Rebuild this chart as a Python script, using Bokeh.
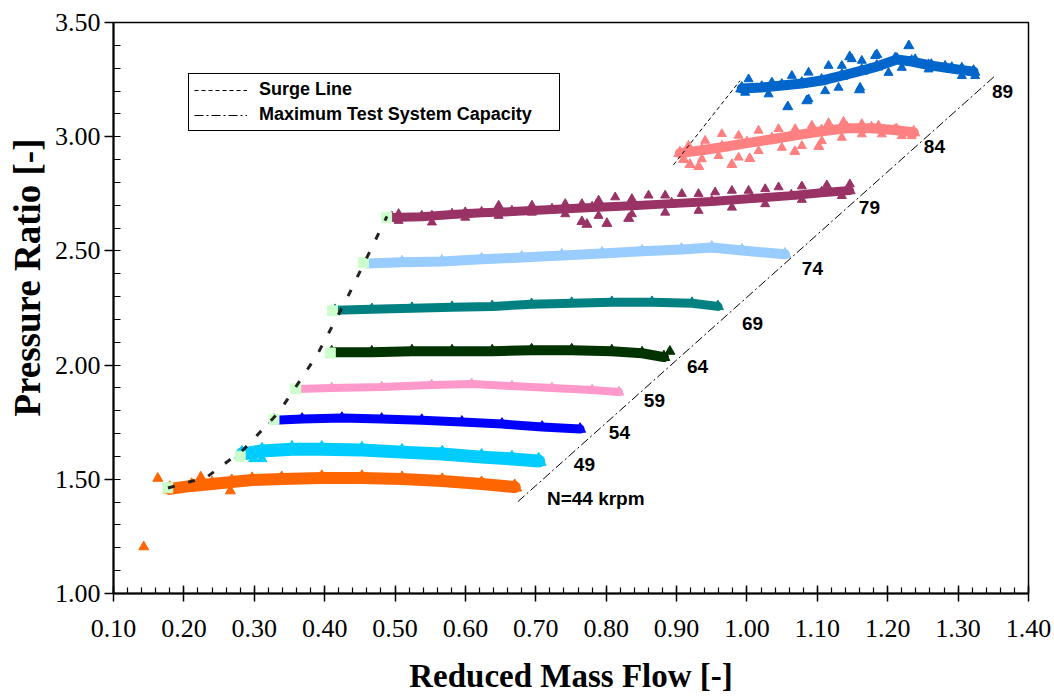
from bokeh.plotting import figure
from bokeh.models import Range1d, FixedTicker, PrintfTickFormatter, Legend, LegendItem, Title
from bokeh.core.properties import value
from bokeh.embed import file_html
from bokeh.resources import INLINE

# ---------------- data ----------------
x_ticks = [0.10, 0.20, 0.30, 0.40, 0.50, 0.60, 0.70, 0.80, 0.90, 1.00, 1.10, 1.20, 1.30, 1.40]
y_ticks = [1.00, 1.50, 2.00, 2.50, 3.00, 3.50]
x_title = "Reduced Mass Flow [-]"
y_title = "Pressure Ratio [-]"

n44_x = [0.180, 0.211, 0.240, 0.268, 0.297, 0.339, 0.396, 0.453, 0.510, 0.567, 0.623, 0.670]
n44_y = [1.458, 1.471, 1.479, 1.488, 1.497, 1.501, 1.506, 1.506, 1.501, 1.493, 1.479, 1.466]
n44_out_x = [0.143, 0.163, 0.224, 0.266]
n44_out_y = [1.204, 1.504, 1.510, 1.449]

n49_x = [0.2825, 0.311, 0.3535, 0.396, 0.453, 0.510, 0.567, 0.623, 0.666, 0.704]
n49_y = [1.611, 1.624, 1.632, 1.632, 1.628, 1.619, 1.611, 1.597, 1.589, 1.580]
n49_out_x = [0.299, 0.311]
n49_out_y = [1.590, 1.590]

n54_x = [0.328, 0.368, 0.4245, 0.481, 0.538, 0.595, 0.652, 0.709, 0.763]
n54_y = [1.759, 1.764, 1.768, 1.764, 1.759, 1.751, 1.742, 1.729, 1.720]

n59_x = [0.361, 0.410, 0.481, 0.552, 0.609, 0.666, 0.723, 0.780, 0.818]
n59_y = [1.895, 1.900, 1.904, 1.913, 1.917, 1.908, 1.900, 1.891, 1.882]

n64_x = [0.410, 0.467, 0.524, 0.581, 0.638, 0.694, 0.751, 0.808, 0.851, 0.882]
n64_y = [2.056, 2.056, 2.061, 2.061, 2.061, 2.065, 2.065, 2.061, 2.052, 2.035]
n64_out_x = [0.8905]
n64_out_y = [2.060]

n69_x = [0.4146, 0.467, 0.524, 0.581, 0.638, 0.694, 0.751, 0.808, 0.865, 0.922, 0.9587]
n69_y = [2.240, 2.244, 2.249, 2.253, 2.257, 2.266, 2.271, 2.275, 2.275, 2.271, 2.257]

n74_x = [0.460, 0.510, 0.5665, 0.623, 0.680, 0.737, 0.794, 0.851, 0.907, 0.950, 0.993, 1.054]
n74_y = [2.445, 2.450, 2.454, 2.463, 2.471, 2.480, 2.489, 2.498, 2.506, 2.515, 2.502, 2.485]

n79_x = [0.4956, 0.538, 0.581, 0.623, 0.666, 0.723, 0.780, 0.8365, 0.893, 0.950, 1.0065, 1.063, 1.106, 1.146]
n79_y = [2.646, 2.650, 2.659, 2.667, 2.672, 2.681, 2.690, 2.698, 2.707, 2.716, 2.729, 2.742, 2.755, 2.764]
n79_top_x = [0.5051, 0.5524, 0.5997, 0.6472, 0.6945, 0.7418, 0.7655, 0.7892, 0.8128, 0.8365, 0.8602,
             0.8838, 0.9075, 0.9312, 0.9548, 0.9786, 1.0023, 1.0259, 1.0449, 1.0780, 1.1135, 1.1462]
n79_top_y = [2.662, 2.655, 2.670, 2.699, 2.699, 2.706, 2.706, 2.721, 2.735, 2.728, 2.743,
             2.743, 2.750, 2.750, 2.757, 2.764, 2.764, 2.771, 2.779, 2.783, 2.788, 2.792]
n79_bot_x = [0.5051, 0.5524, 0.5997, 0.6472, 0.6945, 0.7418, 0.7892, 0.8365, 0.8838, 0.9312, 0.9786,
             1.0259, 1.0780, 1.1348]
n79_bot_y = [2.632, 2.625, 2.646, 2.654, 2.668, 2.661, 2.654, 2.661, 2.668, 2.676, 2.690,
             2.705, 2.724, 2.741]
n79_out_x = [0.7655, 0.7726, 0.801, 0.832]
n79_out_y = [2.628, 2.616, 2.620, 2.642]

n84_x = [0.9047, 0.936, 0.9645, 1.000, 1.0355, 1.071, 1.106, 1.142, 1.177, 1.213, 1.237]
n84_y = [2.928, 2.941, 2.954, 2.972, 2.989, 3.007, 3.024, 3.037, 3.037, 3.028, 3.019]
n84_top_x = [0.9170, 0.9406, 0.9643, 0.9881, 1.0165, 1.0449, 1.0685, 1.0922, 1.1159, 1.1372, 1.1632,
             1.1869, 1.2105, 1.2342]
n84_top_y = [2.961, 2.983, 3.012, 3.005, 3.027, 3.034, 3.034, 3.049, 3.060, 3.066, 3.056,
             3.049, 3.034, 3.019]
n84_bot_x = [0.9075, 0.9359, 0.9597, 0.9881, 1.0165, 1.0496, 1.0780, 1.1064, 1.1348, 1.1632, 1.1916,
             1.2200, 1.2342]
n84_bot_y = [2.923, 2.902, 2.916, 2.909, 2.938, 2.952, 2.960, 2.981, 2.996, 3.011, 3.011,
             3.003, 3.003]
n84_out_x = [0.910, 0.919, 0.9315, 0.9785, 1.004, 1.068, 1.102]
n84_out_y = [2.900, 2.878, 2.869, 2.878, 2.904, 2.935, 2.957]

n89_x = [0.9926, 1.021, 1.0495, 1.078, 1.106, 1.135, 1.163, 1.1845, 1.213, 1.234, 1.262, 1.291, 1.322]
n89_y = [3.211, 3.215, 3.224, 3.233, 3.246, 3.267, 3.289, 3.307, 3.338, 3.329, 3.311, 3.298, 3.285]
n89_top_x = [1.0023, 1.0354, 1.0638, 1.0875, 1.1159, 1.1348, 1.1490, 1.1632, 1.1821, 1.2105, 1.2389,
             1.2580, 1.2815, 1.3053, 1.3242]
n89_top_y = [3.252, 3.238, 3.267, 3.281, 3.311, 3.311, 3.340, 3.333, 3.354, 3.347, 3.340,
             3.318, 3.311, 3.303, 3.281]
n89_bot_x = [0.9974, 1.0307, 1.0875, 1.1111, 1.1301, 1.1608, 1.2011, 1.2200, 1.2580, 1.3053, 1.3242]
n89_bot_y = [3.193, 3.186, 3.164, 3.200, 3.215, 3.215, 3.280, 3.302, 3.295, 3.266, 3.266]
n89_out_x = [1.230, 1.1845, 1.146, 1.058, 1.085, 1.160]
n89_out_y = [3.398, 3.359, 3.350, 3.131, 3.157, 3.205]

surge_pts_x = [0.177, 0.280, 0.328, 0.359, 0.408, 0.411, 0.455, 0.488]
surge_pts_y = [1.463, 1.601, 1.762, 1.896, 2.053, 2.238, 2.449, 2.647]

surge_low_x = [0.1774, 0.2328, 0.2854, 0.335, 0.389, 0.431, 0.4885]
surge_low_y = [1.462, 1.510, 1.632, 1.794, 2.043, 2.288, 2.651]
surge_high_x = [0.8957, 0.990]
surge_high_y = [2.877, 3.245]

capacity_x = [0.6745, 1.3527]
capacity_y = [1.402, 3.267]

speed_labels = ["N=44 krpm", "49", "54", "59", "64", "69", "74", "79", "84", "89"]
label_x = [0.7158, 0.754, 0.8038, 0.8535, 0.9147, 0.993, 1.078, 1.159, 1.2513, 1.348]
label_y = [1.418, 1.563, 1.703, 1.843, 1.995, 2.183, 2.424, 2.690, 2.957, 3.197]

# ---------------- figure ----------------
p = figure(width=1054, height=696, output_backend="svg", toolbar_location=None,
           x_range=Range1d(0.10, 1.40), y_range=Range1d(1.00, 3.50),
           min_border_left=111, min_border_right=26, min_border_top=22, min_border_bottom=103)
p.xgrid.visible = False
p.ygrid.visible = False
p.outline_line_color = "black"
p.outline_line_width = 1.5
p.outline_line_alpha = 1.0
p.background_fill_color = "white"
p.border_fill_color = "white"

x_minor = [round(0.10 + 0.02 * i, 2) for i in range(66)]
y_minor = [round(1.0 + 0.1 * i, 1) for i in range(26)]
p.xaxis.ticker = FixedTicker(ticks=x_ticks, minor_ticks=x_minor)
p.yaxis.ticker = FixedTicker(ticks=y_ticks, minor_ticks=y_minor)
p.xaxis.formatter = PrintfTickFormatter(format="%.2f")
p.yaxis.formatter = PrintfTickFormatter(format="%.2f")

for ax in (p.xaxis[0], p.yaxis[0]):
    ax.axis_line_color = "black"
    ax.axis_line_width = 2
    ax.major_tick_line_color = "black"
    ax.major_tick_line_width = 1.5
    ax.minor_tick_line_color = "black"
    ax.minor_tick_line_width = 1.2
    ax.major_label_text_font = "Liberation Serif"
    ax.major_label_text_font_size = "26px"
    ax.major_label_text_color = "black"

p.xaxis.major_tick_in = 8
p.xaxis.major_tick_out = 8
p.xaxis.minor_tick_in = 6
p.xaxis.minor_tick_out = 0
p.xaxis.major_label_standoff = 18
p.xaxis.axis_label = x_title
p.xaxis.axis_label_standoff = 18
p.xaxis.axis_label_text_font = "Liberation Serif"
p.xaxis.axis_label_text_font_style = "bold"
p.xaxis.axis_label_text_font_size = "33px"
p.xaxis.axis_label_text_color = "black"

p.yaxis.major_tick_in = 0
p.yaxis.major_tick_out = 9
p.yaxis.minor_tick_in = 7
p.yaxis.minor_tick_out = 0
p.yaxis.major_label_standoff = 4

p.add_layout(Title(text=y_title, align="right", offset=116, standoff=8,
                   text_font="Liberation Serif", text_font_style="bold",
                   text_font_size="37px", text_color="black"), "left")

series = [
    (n44_x, n44_y, "#FF6600", 12),
    (n49_x, n49_y, "#00CCFF", 13),
    (n54_x, n54_y, "#0000FF", 9),
    (n59_x, n59_y, "#FF99CC", 8),
    (n64_x, n64_y, "#003300", 10),
    (n69_x, n69_y, "#008080", 9),
    (n74_x, n74_y, "#99CCFF", 10),
    (n79_x, n79_y, "#993366", 9),
    (n84_x, n84_y, "#FF8080", 10),
    (n89_x, n89_y, "#0066CC", 10),
]
for xs, ys, col, w in series:
    p.line(xs, ys, line_color=col, line_width=w, line_cap="round", line_join="round")
    p.scatter(xs, ys, marker="triangle", size=w + 2, fill_color=col, line_color=col)

edges = [
    (n79_top_x, n79_top_y, "#993366"), (n79_bot_x, n79_bot_y, "#993366"),
    (n84_top_x, n84_top_y, "#FF8080"), (n84_bot_x, n84_bot_y, "#FF8080"),
    (n89_top_x, n89_top_y, "#0066CC"), (n89_bot_x, n89_bot_y, "#0066CC"),
]
for xs, ys, col in edges:
    p.scatter(xs, ys, marker="triangle", size=9, fill_color=col, line_color=col)

outliers = [
    (n44_out_x, n44_out_y, "#FF6600"),
    (n49_out_x, n49_out_y, "#00CCFF"),
    (n64_out_x, n64_out_y, "#003300"),
    (n79_out_x, n79_out_y, "#993366"),
    (n84_out_x, n84_out_y, "#FF8080"),
    (n89_out_x, n89_out_y, "#0066CC"),
]
for xs, ys, col in outliers:
    p.scatter(xs, ys, marker="triangle", size=10, fill_color=col, line_color=col)

p.scatter(surge_pts_x, surge_pts_y, marker="square", size=10, fill_color="#CCFFCC", line_color="#CCFFCC")

p.line(surge_low_x, surge_low_y, line_color="#222222", line_width=3, line_dash="7 14")
leg_surge = p.line(surge_high_x, surge_high_y, line_color="black", line_width=1, line_dash="4 3")
cap_r = p.line(capacity_x, capacity_y, line_color="black", line_width=1, line_dash="9 3 2 3")

p.text(label_x, label_y, text=speed_labels, text_font=value("Liberation Sans"), text_font_style="bold",
       text_font_size="19px", text_align="left", text_baseline="middle", text_color="black")

legend = Legend(items=[LegendItem(label="Surge Line", renderers=[leg_surge]),
                       LegendItem(label="Maximum Test System Capacity", renderers=[cap_r])],
                location=(75, 462), orientation="vertical",
                border_line_color="black", border_line_width=1, border_line_alpha=1,
                background_fill_color="white", background_fill_alpha=1,
                label_text_font="Liberation Sans", label_text_font_style="bold",
                label_text_font_size="18px", label_text_color="black",
                glyph_width=53, glyph_height=20, label_height=20, label_width=295,
                label_standoff=12, padding=5, spacing=4, margin=0)
p.add_layout(legend, "center")

open("out.html", "w").write(file_html(p, INLINE))
